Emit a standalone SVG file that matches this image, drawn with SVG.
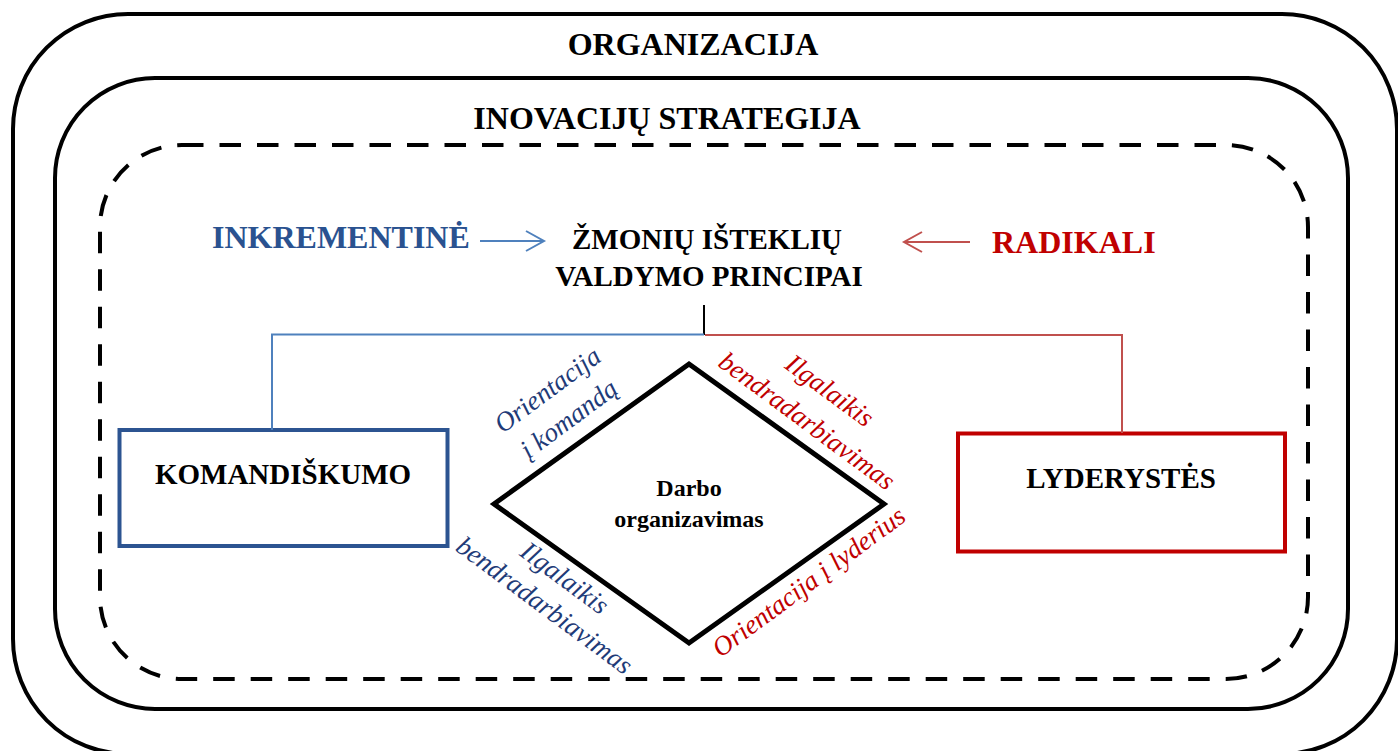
<svg xmlns="http://www.w3.org/2000/svg" width="1398" height="751" viewBox="0 0 1398 751">
  <style>
    text { font-family: "Liberation Serif", "Times New Roman", serif; }
    .title { font-size: 32px; font-weight: bold; text-anchor: middle; }
    .head { font-size: 29px; font-weight: bold; text-anchor: middle; }
    .lab { font-size: 27px; font-style: italic; text-anchor: middle; }
    .blue { fill: #1F3B78; }
    .red { fill: #C00000; }
    .frame { fill: none; stroke: #000; stroke-width: 4; }
  </style>
  <rect width="1398" height="751" fill="#fff"/>

  <!-- nested frames -->
  <g id="organizacija">
    <rect class="frame" x="13" y="14" width="1384" height="740" rx="115" ry="115"/>
    <text class="title" x="693" y="55">ORGANIZACIJA</text>
  </g>
  <g id="strategija">
    <rect class="frame" x="55" y="78" width="1293" height="631" rx="100" ry="100"/>
    <text class="title" x="667" y="129">INOVACIJŲ STRATEGIJA</text>
  </g>
  <g id="principai-ribos">
    <rect class="frame" x="100" y="145" width="1208" height="534" rx="82" ry="82" stroke-dasharray="21.5 16"/>
  </g>

  <!-- strategy types and principles -->
  <g id="inkrementine">
    <text x="212" y="248" font-size="32" font-weight="bold" fill="#2A5290">INKREMENTINĖ</text>
  </g>
  <g id="principai">
    <text class="head" x="707" y="249">ŽMONIŲ IŠTEKLIŲ</text>
    <text class="head" x="709" y="286">VALDYMO PRINCIPAI</text>
  </g>
  <g id="radikali">
    <text x="992" y="253" font-size="32" font-weight="bold" fill="#C00000">RADIKALI</text>
  </g>

  <g id="komandiskumo">
    <rect x="119.5" y="430" width="328" height="116" fill="none" stroke="#2C5491" stroke-width="4"/>
    <text class="head" x="283" y="484">KOMANDIŠKUMO</text>
  </g>
  <g id="lyderystes">
    <rect x="958" y="433.5" width="327" height="118" fill="none" stroke="#C00000" stroke-width="4"/>
    <text class="head" x="1121" y="488">LYDERYSTĖS</text>
  </g>

  <g id="darbo-organizavimas">
    <polygon points="689,364 884,504 689,643 494,504" fill="none" stroke="#000" stroke-width="5"/>
    <text x="689" y="495.5" font-size="24" font-weight="bold" text-anchor="middle">Darbo</text>
    <text x="689" y="527" font-size="24" font-weight="bold" text-anchor="middle">organizavimas</text>
  </g>

  <!-- side labels of the diamond -->
  <g id="orientacija-komanda" transform="translate(552.7,397) rotate(-36.5)">
    <text class="lab blue" x="0" y="0">Orientacija</text>
    <text class="lab blue" x="0" y="36">į komandą</text>
  </g>
  <g id="ilgalaikis-raudonas" transform="translate(824.4,397.7) rotate(36.5)">
    <text class="lab red" x="0" y="0">Ilgalaikis</text>
    <text class="lab red" x="0" y="38">bendradarbiavimas</text>
  </g>
  <g id="ilgalaikis-melynas" transform="translate(559.4,585.2) rotate(36.5)">
    <text class="lab blue" x="0" y="0">Ilgalaikis</text>
    <text class="lab blue" x="0" y="34">bendradarbiavimas</text>
  </g>
  <g id="orientacija-lyderius" transform="translate(814,589) rotate(-36.5)">
    <text class="lab red" x="0" y="0">Orientacija į lyderius</text>
  </g>

  <!-- connectors -->
  <g id="connectors" fill="none" stroke-width="2">
    <polyline points="480,241 544,241" stroke="#4F81BD"/>
    <polyline points="526,231 544,241 526,251" stroke="#4F81BD"/>
    <polyline points="970,242 904,242" stroke="#C0504D"/>
    <polyline points="922,232 904,242 922,252" stroke="#C0504D"/>
    <line x1="704" y1="305" x2="704" y2="335" stroke="#000"/>
    <polyline points="704,334.5 272,334.5 272,430" stroke="#4F81BD"/>
    <polyline points="705,335 1122,335 1122,433" stroke="#C0504D"/>
  </g>
</svg>
